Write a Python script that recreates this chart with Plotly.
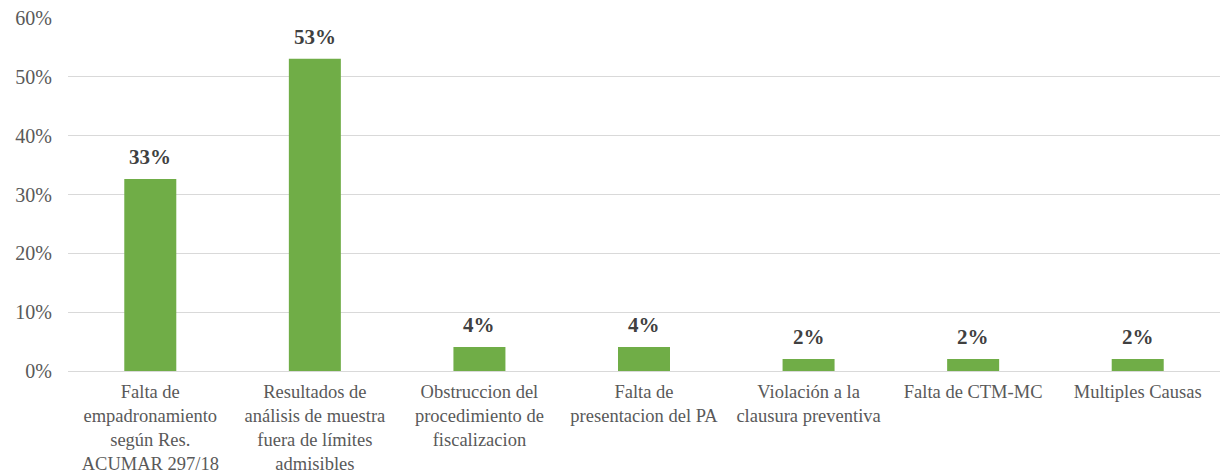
import plotly.graph_objects as go

categories = [
    "Falta de<br>empadronamiento<br>según Res.<br>ACUMAR 297/18",
    "Resultados de<br>análisis de muestra<br>fuera de límites<br>admisibles",
    "Obstruccion del<br>procedimiento de<br>fiscalizacion",
    "Falta de<br>presentacion del PA",
    "Violación a la<br>clausura preventiva",
    "Falta de CTM-MC",
    "Multiples Causas",
]
values = [0.3265, 0.5306, 0.0408, 0.0408, 0.0204, 0.0204, 0.0204]
y_ticks = [0, 0.1, 0.2, 0.3, 0.4, 0.5, 0.6]
y_tick_labels = ["0%", "10%", "20%", "30%", "40%", "50%", "60%"]

labels = [f"{round(v*100)}%" for v in values]
FONT = "Liberation Serif"

fig = go.Figure(go.Bar(
    x=categories, y=values,
    marker=dict(color="#70AD47", line=dict(width=0)),
    hoverinfo="skip",
))

for c, v, t in zip(categories, values, labels):
    fig.add_annotation(
        x=c, y=v, text=f"<b>{t}</b>", showarrow=False,
        xref="x", yref="y", yanchor="bottom", yshift=8,
        font=dict(family=FONT, size=21, color="#404040"),
    )

fig.update_layout(
    width=1222, height=475,
    margin=dict(l=68, r=2, t=18, b=104, autoexpand=False),
    paper_bgcolor="white", plot_bgcolor="white",
    bargap=0.684,
    showlegend=False,
    font=dict(family=FONT, color="#595959"),
)
fig.update_yaxes(
    range=[0, 0.6], tickvals=y_ticks, ticktext=y_tick_labels,
    showgrid=True, gridcolor="#D9D9D9", gridwidth=1,
    zeroline=True, zerolinecolor="#D9D9D9", zerolinewidth=1,
    tickfont=dict(family=FONT, size=20, color="#595959"),
    ticklabelstandoff=15, showline=False, automargin=False,
)
fig.update_xaxes(
    tickfont=dict(family=FONT, size=18.5, color="#595959"), tickangle=0,
    showline=False, ticks="", automargin=False, ticklabelstandoff=7,
)

fig.write_html(
    "out.html",
    config={"displayModeBar": False},
    post_script="document.body.style.margin='0';document.body.style.overflow='hidden';",
)
